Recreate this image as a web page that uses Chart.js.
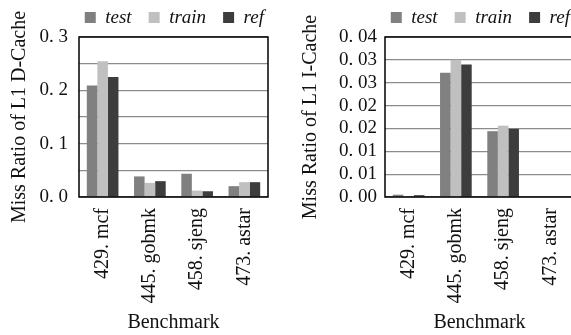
<!DOCTYPE html>
<html>
<head>
<meta charset="utf-8">
<script src="https://cdn.jsdelivr.net/npm/chart.js@4.4.1/dist/chart.umd.min.js"></script>
<style>
    html, body { margin: 0; padding: 0; background: #fff; overflow: hidden; width: 571px; height: 335px; }
    canvas { position: absolute; }
</style>
</head>
<body>
<canvas id="dcacheChart" width="285" height="344" style="left:0px; top:-9px;"></canvas>
<canvas id="icacheChart" width="296" height="344" style="left:295px; top:-9px;"></canvas>
<script>
const benchmarks = ["429. mcf", "445. gobmk", "458. sjeng", "473. astar"];
const seriesNames = ["test", "train", "ref"];

// L1 D-Cache miss ratio
const dcacheTest = [0.209, 0.0386, 0.0436, 0.0203];
const dcacheTrain = [0.2545, 0.0265, 0.012, 0.0278];
const dcacheRef = [0.2248, 0.0297, 0.0108, 0.0278];

// L1 I-Cache miss ratio
const icacheTest = [0.0005, 0.0272, 0.0144, 0];
const icacheTrain = [0.0001, 0.0300, 0.0156, 0];
const icacheRef = [0.0004, 0.0290, 0.0149, 0];

const seriesColors = ["#808080", "#c0c0c0", "#3d3d3d"];
const serif = "'Liberation Serif', 'Times New Roman', serif";

// Black frame around the plot area
const framePlugin = {
    id: "frame",
    afterDatasetsDraw(chart) {
        const { ctx, chartArea } = chart;
        ctx.save();
        ctx.strokeStyle = "#000";
        ctx.lineWidth = 1.5;
        ctx.strokeRect(chartArea.left, chartArea.top, chartArea.right - chartArea.left, chartArea.bottom - chartArea.top);
        ctx.restore();
    }
};

function makeChart(id, series, yTitle, yMax, yStep, tickLabel, axisWidth, titlePadTop, tickPad) {
    const ctx = document.getElementById(id).getContext("2d");
    return new Chart(ctx, {
        type: "bar",
        data: {
            labels: benchmarks,
            datasets: series.map((values, i) => ({
                label: seriesNames[i],
                data: values,
                backgroundColor: seriesColors[i],
                borderWidth: 0,
                barPercentage: 1,
                categoryPercentage: 0.67,
            }))
        },
        options: {
            responsive: false,
            animation: false,
            devicePixelRatio: 1,
            layout: { padding: { left: 0, right: 4, top: 0, bottom: 0 } },
            scales: {
                x: {
                    grid: { display: false, drawTicks: false },
                    border: { display: false },
                    ticks: {
                        color: "#111",
                        font: { family: serif, size: 20 },
                        maxRotation: 90,
                        minRotation: 90,
                        autoSkip: false,
                        padding: 11,
                    },
                    title: {
                        display: true,
                        text: "Benchmark",
                        color: "#111",
                        font: { family: serif, size: 20 },
                        padding: { top: 0, bottom: 0 },
                    },
                    afterFit(scale) { scale.height = 138; }
                },
                y: {
                    min: 0,
                    max: yMax,
                    grid: { color: "#8c8c8c", lineWidth: 1.2, drawTicks: false },
                    border: { display: false },
                    ticks: {
                        stepSize: yStep,
                        autoSkip: false,
                        color: "#111",
                        font: { family: serif, size: 19 },
                        padding: tickPad,
                        callback: tickLabel,
                    },
                    title: {
                        display: true,
                        text: yTitle,
                        color: "#111",
                        font: { family: serif, size: 20 },
                        padding: { top: titlePadTop, bottom: 0 },
                    },
                    afterFit(scale) { scale.width = axisWidth; }
                },
                // empty spacer on the right so the legend can run past the plot edge
                spacer: {
                    position: "right",
                    grid: { display: false, drawTicks: false },
                    border: { display: false },
                    ticks: { display: false },
                    afterFit(scale) { scale.width = 13; }
                }
            },
            plugins: {
                legend: {
                    position: "top",
                    align: "end",
                    labels: {
                        color: "#111",
                        boxWidth: 11,
                        boxHeight: 11,
                        padding: 17,
                        font: { family: serif, size: 19, style: "italic" },
                    }
                },
                tooltip: { enabled: false }
            }
        },
        plugins: [framePlugin]
    });
}

// Left axis: grid every 0.05, label only every 0.1, written "0. 1"
function dcacheTick(value) {
    const r = Math.round(value * 100);
    if (r % 10 !== 0) return "";
    return (r / 100).toFixed(1).replace(".", ". ");
}

// Right axis: every 0.005 rounded half-up to two decimals, written "0. 01"
function icacheTick(value) {
    const r = Math.round(Math.round(value * 1000) / 10) / 100;
    return r.toFixed(2).replace(".", ". ");
}

makeChart("dcacheChart", [dcacheTest, dcacheTrain, dcacheRef], "Miss Ratio of L1 D-Cache", 0.3, 0.05, dcacheTick, 79, 7.5, 11);
makeChart("icacheChart", [icacheTest, icacheTrain, icacheRef], "Miss Ratio of L1 I-Cache", 0.035, 0.005, icacheTick, 90, 4, 8);
</script>
</body>
</html>
